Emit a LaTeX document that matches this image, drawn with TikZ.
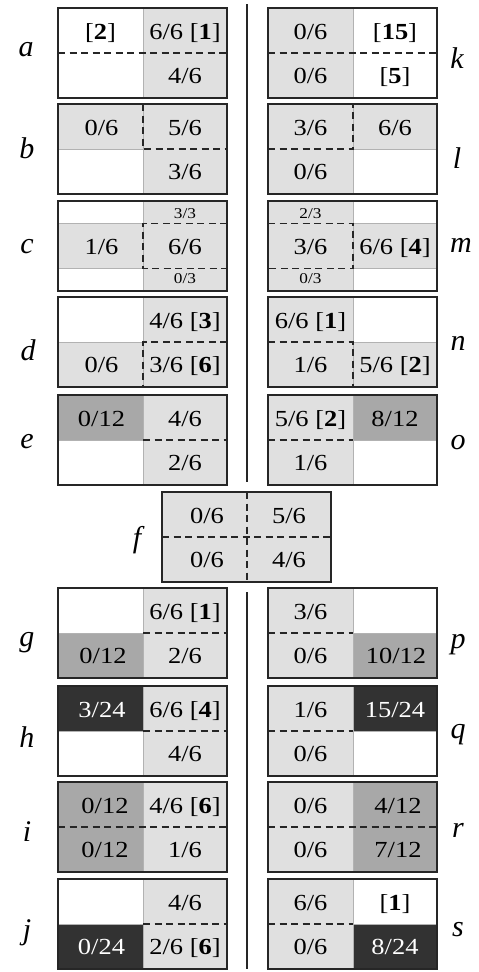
\documentclass[tikz,border=0pt]{standalone}
\usepackage{fontspec}
\setmainfont{Liberation Serif}
\newfontfamily\cellfont{Liberation Serif}[FakeStretch=1.15]
\usepackage{tikz}
\definecolor{CellLite}{RGB}{224,224,224}
\definecolor{CellMid}{RGB}{168,168,168}
\definecolor{CellDark}{RGB}{50,50,50}
\definecolor{FrameInk}{RGB}{38,38,38}

\begin{document}
\begin{tikzpicture}[
  x=1pt, y=-1pt,
  litecell/.style={fill=CellLite, draw=black!30, line width=0.7pt},
  midcell/.style={fill=CellMid, draw=black!30, line width=0.7pt},
  darkcell/.style={fill=CellDark, draw=black!30, line width=0.7pt},
  boxframe/.style={draw=FrameInk, line width=2.2pt},
  cutline/.style={draw=FrameInk, line width=1.4pt, dash pattern=on 7pt off 4.5pt},
  val/.style={font=\cellfont\fontsize{23}{25}\selectfont, text height=15.5pt, text depth=0pt, inner sep=0pt},
  smallval/.style={font=\cellfont\fontsize{15}{17}\selectfont, text height=10pt, text depth=0pt, inner sep=0pt},
  inv/.style={val, text=white},
  lbl/.style={font=\fontsize{30}{32}\selectfont\itshape, inner sep=0pt}
]
\useasboundingbox (0,0) rectangle (479,972);

% separators
\draw[boxframe, line width=2pt] (247,4) -- (247,482);
\draw[boxframe, line width=2pt] (247,592) -- (247,969);

% row letters
\foreach \l/\x/\y in {a/26/50, b/27/148, c/27/247, d/28/350, e/27/442,
                      k/457/58, l/457/158, m/461/245, n/458/343, o/458/443,
                      f/137/540,
                      g/27/643, h/27/737, i/27/832, j/27/933,
                      p/458/645, q/458/735, r/458/830, s/458/930}
  \node[lbl] (lab-\l) at (\x,\y) {\l};

% a
\begin{scope}[shift={(58,8)}]
  \fill[litecell] (85,0) rectangle (169,90);
  \draw[cutline] (0,45) -- (169,45);
  \node[val] (a1) at (42.5,24) {[\textbf{2}]};
  \node[val] (a2) at (127,24) {6/6 [\textbf{1}]};
  \node[val] (a4) at (127,68) {4/6};
  \draw[boxframe] (0,0) rectangle (169,90);
\end{scope}

% b
\begin{scope}[shift={(58,104)}]
  \fill[litecell] (0,0) rectangle (85,45);
  \fill[litecell] (85,0) rectangle (169,90);
  \draw[cutline] (85,0) -- (85,45) -- (169,45);
  \node[val] (b1) at (43.5,24) {0/6};
  \node[val] (b2) at (127,24) {5/6};
  \node[val] (b4) at (127,68) {3/6};
  \draw[boxframe] (0,0) rectangle (169,90);
\end{scope}

% c
\begin{scope}[shift={(58,201)}]
  \fill[litecell] (0,22.5) rectangle (85,67.5);
  \fill[litecell] (85,0) rectangle (169,90);
  \draw[cutline] (169,22.5) -- (85,22.5) -- (85,67.5) -- (169,67.5);
  \node[val] (c1) at (43.5,46) {1/6};
  \node[smallval] (c2) at (127,12) {3/3};
  \node[val] (c3) at (127,46) {6/6};
  \node[smallval] (c4) at (127,77) {0/3};
  \draw[boxframe] (0,0) rectangle (169,90);
\end{scope}

% d
\begin{scope}[shift={(58,297)}]
  \fill[litecell] (0,45) rectangle (85,90);
  \fill[litecell] (85,0) rectangle (169,90);
  \draw[cutline] (169,45) -- (85,45) -- (85,90);
  \node[val] (d2) at (127,24) {4/6 [\textbf{3}]};
  \node[val] (d3) at (43.5,68) {0/6};
  \node[val] (d4) at (127,68) {3/6 [\textbf{6}]};
  \draw[boxframe] (0,0) rectangle (169,90);
\end{scope}

% e
\begin{scope}[shift={(58,395)}]
  \fill[midcell] (0,0) rectangle (85,45);
  \fill[litecell] (85,0) rectangle (169,90);
  \draw[cutline] (85,45) -- (169,45);
  \node[val] (e1) at (43.5,24) {0/12};
  \node[val] (e2) at (127,24) {4/6};
  \node[val] (e4) at (127,68) {2/6};
  \draw[boxframe] (0,0) rectangle (169,90);
\end{scope}

% k
\begin{scope}[shift={(268,8)}]
  \fill[litecell] (0,0) rectangle (85,90);
  \draw[cutline] (0,45) -- (169,45);
  \node[val] (k1) at (42.5,24) {0/6};
  \node[val] (k2) at (127,24) {[\textbf{15}]};
  \node[val] (k3) at (42.5,68) {0/6};
  \node[val] (k4) at (127,68) {[\textbf{5}]};
  \draw[boxframe] (0,0) rectangle (169,90);
\end{scope}

% l
\begin{scope}[shift={(268,104)}]
  \fill[litecell] (0,0) rectangle (85,90);
  \fill[litecell] (85,0) rectangle (169,45);
  \draw[cutline] (0,45) -- (85,45) -- (85,0);
  \node[val] (l1) at (42.5,24) {3/6};
  \node[val] (l2) at (127,24) {6/6};
  \node[val] (l3) at (42.5,68) {0/6};
  \draw[boxframe] (0,0) rectangle (169,90);
\end{scope}

% m
\begin{scope}[shift={(268,201)}]
  \fill[litecell] (0,0) rectangle (85,90);
  \fill[litecell] (85,22.5) rectangle (169,67.5);
  \draw[cutline] (0,22.5) -- (85,22.5) -- (85,67.5) -- (0,67.5);
  \node[smallval] (m1) at (42.5,12) {2/3};
  \node[val] (m2) at (42.5,46) {3/6};
  \node[smallval] (m3) at (42.5,77) {0/3};
  \node[val] (m4) at (127,46) {6/6 [\textbf{4}]};
  \draw[boxframe] (0,0) rectangle (169,90);
\end{scope}

% n
\begin{scope}[shift={(268,297)}]
  \fill[litecell] (0,0) rectangle (85,90);
  \fill[litecell] (85,45) rectangle (169,90);
  \draw[cutline] (0,45) -- (85,45) -- (85,90);
  \node[val] (n1) at (42.5,24) {6/6 [\textbf{1}]};
  \node[val] (n3) at (42.5,68) {1/6};
  \node[val] (n4) at (127,68) {5/6 [\textbf{2}]};
  \draw[boxframe] (0,0) rectangle (169,90);
\end{scope}

% o
\begin{scope}[shift={(268,395)}]
  \fill[litecell] (0,0) rectangle (85,90);
  \fill[midcell] (85,0) rectangle (169,45);
  \draw[cutline] (0,45) -- (85,45);
  \node[val] (o1) at (42.5,24) {5/6 [\textbf{2}]};
  \node[val] (o2) at (127,24) {8/12};
  \node[val] (o3) at (42.5,68) {1/6};
  \draw[boxframe] (0,0) rectangle (169,90);
\end{scope}

% f
\begin{scope}[shift={(162,492)}]
  \fill[litecell] (0,0) rectangle (169,90);
  \draw[cutline] (0,45) -- (169,45);
  \draw[cutline] (85,0) -- (85,90);
  \node[val] (f1) at (45,24) {0/6};
  \node[val] (f2) at (127,24) {5/6};
  \node[val] (f3) at (45,68) {0/6};
  \node[val] (f4) at (127,68) {4/6};
  \draw[boxframe] (0,0) rectangle (169,90);
\end{scope}

% g
\begin{scope}[shift={(58,588)}]
  \fill[midcell] (0,45) rectangle (85,90);
  \fill[litecell] (85,0) rectangle (169,90);
  \draw[cutline] (85,45) -- (169,45);
  \node[val] (g2) at (127,24) {6/6 [\textbf{1}]};
  \node[val] (g3) at (45,68) {0/12};
  \node[val] (g4) at (127,68) {2/6};
  \draw[boxframe] (0,0) rectangle (169,90);
\end{scope}

% h
\begin{scope}[shift={(58,686)}]
  \fill[darkcell] (0,0) rectangle (85,45);
  \fill[litecell] (85,0) rectangle (169,90);
  \draw[cutline] (85,45) -- (169,45);
  \node[inv] (h1) at (44,24) {3/24};
  \node[val] (h2) at (127,24) {6/6 [\textbf{4}]};
  \node[val] (h4) at (127,68) {4/6};
  \draw[boxframe] (0,0) rectangle (169,90);
\end{scope}

% i
\begin{scope}[shift={(58,782)}]
  \fill[midcell] (0,0) rectangle (85,90);
  \fill[litecell] (85,0) rectangle (169,90);
  \draw[cutline] (0,45) -- (169,45);
  \node[val] (i1) at (47,24) {0/12};
  \node[val] (i2) at (127,24) {4/6 [\textbf{6}]};
  \node[val] (i3) at (47,68) {0/12};
  \node[val] (i4) at (127,68) {1/6};
  \draw[boxframe] (0,0) rectangle (169,90);
\end{scope}

% j
\begin{scope}[shift={(58,879)}]
  \fill[darkcell] (0,45) rectangle (85,90);
  \fill[litecell] (85,0) rectangle (169,90);
  \draw[cutline] (85,45) -- (169,45);
  \node[val] (j2) at (127,24) {4/6};
  \node[inv] (j3) at (43.5,68) {0/24};
  \node[val] (j4) at (127,68) {2/6 [\textbf{6}]};
  \draw[boxframe] (0,0) rectangle (169,90);
\end{scope}

% p
\begin{scope}[shift={(268,588)}]
  \fill[litecell] (0,0) rectangle (85,90);
  \fill[midcell] (85,45) rectangle (169,90);
  \draw[cutline] (0,45) -- (85,45);
  \node[val] (p1) at (42.5,24) {3/6};
  \node[val] (p3) at (42.5,68) {0/6};
  \node[val] (p4) at (128,68) {10/12};
  \draw[boxframe] (0,0) rectangle (169,90);
\end{scope}

% q
\begin{scope}[shift={(268,686)}]
  \fill[litecell] (0,0) rectangle (85,90);
  \fill[darkcell] (85,0) rectangle (169,45);
  \draw[cutline] (0,45) -- (85,45);
  \node[val] (q1) at (42.5,24) {1/6};
  \node[inv] (q2) at (127,24) {15/24};
  \node[val] (q3) at (42.5,68) {0/6};
  \draw[boxframe] (0,0) rectangle (169,90);
\end{scope}

% r
\begin{scope}[shift={(268,782)}]
  \fill[litecell] (0,0) rectangle (85,90);
  \fill[midcell] (85,0) rectangle (169,90);
  \draw[cutline] (0,45) -- (169,45);
  \node[val] (r1) at (42.5,24) {0/6};
  \node[val] (r2) at (130,24) {4/12};
  \node[val] (r3) at (42.5,68) {0/6};
  \node[val] (r4) at (130,68) {7/12};
  \draw[boxframe] (0,0) rectangle (169,90);
\end{scope}

% s
\begin{scope}[shift={(268,879)}]
  \fill[litecell] (0,0) rectangle (85,90);
  \fill[darkcell] (85,45) rectangle (169,90);
  \draw[cutline] (0,45) -- (85,45);
  \node[val] (s1) at (42.5,24) {6/6};
  \node[val] (s2) at (127,24) {[\textbf{1}]};
  \node[val] (s3) at (42.5,68) {0/6};
  \node[inv] (s4) at (127,68) {8/24};
  \draw[boxframe] (0,0) rectangle (169,90);
\end{scope}
\end{tikzpicture}
\end{document}
